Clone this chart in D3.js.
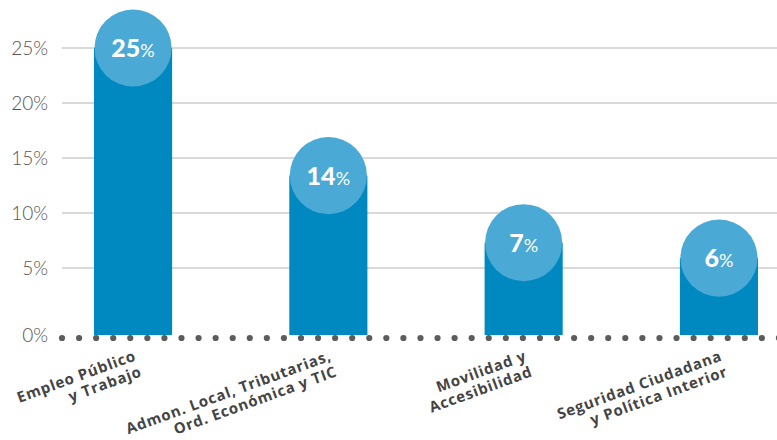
<!DOCTYPE html>
<html>
<head>
<meta charset="utf-8">
<script src="https://cdn.jsdelivr.net/npm/d3@7"></script>
<style>
  body { margin: 0; background: #fff; }
  svg { display: block; }
</style>
</head>
<body>
<div id="chart"></div>
<script>
var categories = [
  ['Empleo Público', 'y Trabajo'],
  ['Admon. Local, Tributarias,', 'Ord. Económica y TIC'],
  ['Movilidad y', 'Accesibilidad'],
  ['Seguridad Ciudadana', 'y Política Interior']
];
var values = [25, 13.4, 7.3, 5.9];
var valueLabels = ['25', '14', '7', '6'];
var yTicks = [5, 10, 15, 20, 25];

var width = 777, height = 440;
var baseline = 335;

var svg = d3.select('#chart').append('svg')
  .attr('width', width)
  .attr('height', height);

var x = d3.scaleBand()
  .domain(d3.range(categories.length))
  .range([35.4, 816.6])
  .paddingInner(0.6)
  .paddingOuter(0.3);

var y = d3.scaleLinear()
  .domain([0, 25])
  .range([323, 48]);

// grid lines
svg.selectAll('line.grid')
  .data(yTicks)
  .enter()
  .append('line')
  .attr('class', 'grid')
  .attr('x1', 62)
  .attr('x2', width)
  .attr('y1', function (d) { return y(d); })
  .attr('y2', function (d) { return y(d); })
  .attr('stroke', '#b3b3b3')
  .attr('stroke-width', 1.2);

// y labels
svg.selectAll('text.ytick')
  .data(yTicks)
  .enter()
  .append('text')
  .attr('class', 'ytick')
  .attr('x', 48)
  .attr('y', function (d) { return y(d) + 6.5; })
  .attr('text-anchor', 'end')
  .attr('font-family', 'Lato, sans-serif')
  .attr('font-weight', 300)
  .attr('font-size', '19px')
  .attr('fill', '#555')
  .text(function (d) { return d + '%'; });

svg.append('text')
  .attr('x', 48)
  .attr('y', baseline + 7)
  .attr('text-anchor', 'end')
  .attr('font-family', 'Lato, sans-serif')
  .attr('font-weight', 300)
  .attr('font-size', '19px')
  .attr('fill', '#555')
  .text('0%');

// bars
svg.selectAll('rect.bar')
  .data(values)
  .enter()
  .append('rect')
  .attr('class', 'bar')
  .attr('x', function (d, i) { return x(i); })
  .attr('y', function (d) { return y(d); })
  .attr('width', x.bandwidth())
  .attr('height', function (d) { return baseline - y(d); })
  .attr('fill', '#0089c1');

// dotted baseline
svg.selectAll('circle.dot')
  .data(d3.range(43))
  .enter()
  .append('circle')
  .attr('class', 'dot')
  .attr('cx', function (d) { return 62 + d * 17.07; })
  .attr('cy', baseline + 3)
  .attr('r', 3.1)
  .attr('fill', '#5c5c5c');

// bubbles
svg.selectAll('circle.bubble')
  .data(values)
  .enter()
  .append('circle')
  .attr('class', 'bubble')
  .attr('cx', function (d, i) { return x(i) + x.bandwidth() / 2; })
  .attr('cy', function (d) { return y(d); })
  .attr('r', x.bandwidth() / 2 - 0.5)
  .attr('fill', '#4aa9d5');

var vl = svg.selectAll('text.vlabel')
  .data(values)
  .enter()
  .append('text')
  .attr('class', 'vlabel')
  .attr('x', function (d, i) { return x(i) + x.bandwidth() / 2; })
  .attr('y', function (d) { return y(d) + 9; })
  .attr('text-anchor', 'middle')
  .attr('font-family', 'Lato, sans-serif')
  .attr('fill', '#fff');

vl.append('tspan')
  .attr('font-weight', 900)
  .attr('font-size', '25px')
  .text(function (d, i) { return valueLabels[i]; });

vl.append('tspan')
  .attr('font-weight', 400)
  .attr('font-size', '18px')
  .text('%');

// category labels
var cl = svg.selectAll('text.cat')
  .data(categories)
  .enter()
  .append('text')
  .attr('class', 'cat')
  .attr('transform', function (d, i) {
    return 'translate(' + (x(i) + x.bandwidth() / 2 + 4) + ',360) rotate(-20)';
  })
  .attr('text-anchor', 'end')
  .attr('font-family', '"Open Sans", sans-serif')
  .attr('font-weight', 700)
  .attr('font-size', '15px')
  .attr('letter-spacing', '0.8px')
  .attr('fill', '#444');

cl.selectAll('tspan')
  .data(function (d) { return d; })
  .enter()
  .append('tspan')
  .attr('x', 0)
  .attr('dy', function (d, i) { return i === 0 ? 0 : '1.12em'; })
  .text(function (d) { return d; });
</script>
</body>
</html>
